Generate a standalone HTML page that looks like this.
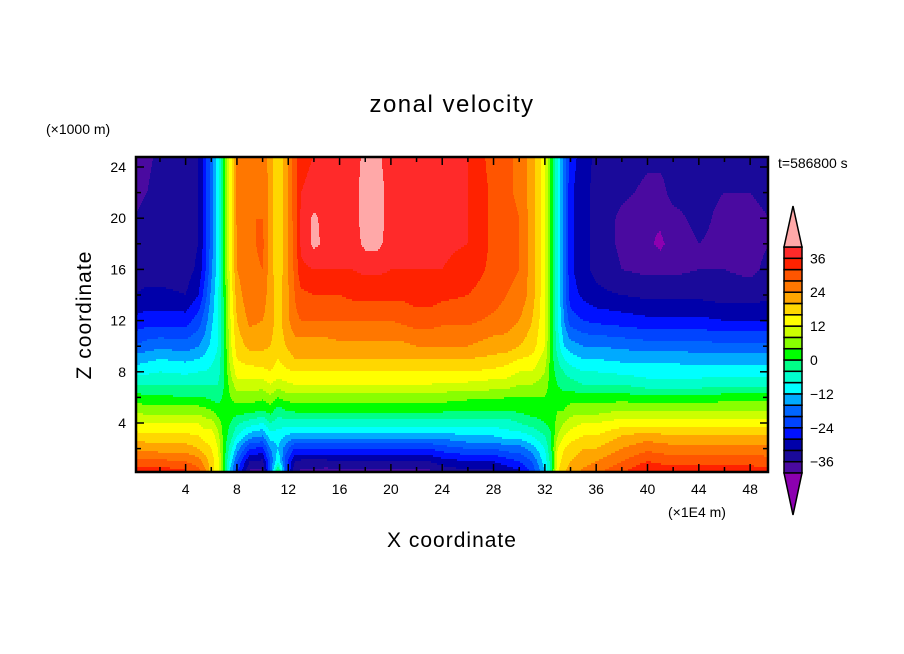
<!DOCTYPE html>
<html><head><meta charset="utf-8"><style>
body{margin:0;background:#fff;}
svg{display:block;font-family:"Liberation Sans",sans-serif;}
</style></head><body>
<svg id="chart" width="904" height="654" viewBox="0 0 904 654">
<rect width="904" height="654" fill="#fff"/>
<text x="452" y="112" font-size="24" text-anchor="middle" letter-spacing="1.5">zonal velocity</text>
<text x="46" y="134" font-size="14">(×1000 m)</text>
<text x="778" y="168" font-size="14">t=586800 s</text>
<text x="668" y="517" font-size="14">(×1E4 m)</text>
<text x="452" y="547" font-size="21" text-anchor="middle" letter-spacing="1">X coordinate</text>
<text x="0" y="0" font-size="21" text-anchor="middle" letter-spacing="1" transform="translate(91,315) rotate(-90)">Z coordinate</text>
<g id="field" shape-rendering="crispEdges"></g>
<g id="axes"></g>
<g id="cbar"></g>
</svg>
<script>
const xs=[0,1,2,4,5,5.5,6,6.5,7,7.5,8,9,10,10.6,11.2,11.8,12.5,13,14,15,16,17,18,19,20,21,22,23,24,26,28,29,30,31,32,32.5,33,33.5,34,35,36,38,40,41,42,44,46,48,49.5];
const zs=[0,1,2,3,4,5,6,7,8,9,10,12,14,16,18,20,22,25];
const cols=[
[36,30,23,18,12,7,2,-4,-10,-14,-20,-27,-32,-34,-35,-36,-37,-38],
[36,29,23,17,12,6,1,-4,-9,-13,-18,-26,-31,-34,-35,-35,-36,-37],
[36,29,22,17,12,6,1,-4,-8,-12,-17,-26,-31,-34,-34,-34,-34,-35],
[34,28,22,17,12,6,0,-4,-9,-13,-18,-26,-32,-34,-34,-34,-34,-34],
[30,26,20,16,12,6,0,-4,-8,-12,-16,-22,-28,-31,-32,-32,-32,-32],
[26,22,18,14,10,5,0,-4,-8,-11,-14,-18,-22,-25,-26,-26,-26,-26],
[18,18,16,14,10,4,-1,-4,-7,-9,-11,-13,-15,-17,-18,-18,-18,-18],
[14,14,12,10,6,2,-2,-4,-6,-7,-8,-9,-9,-10,-10,-10,-10,-10],
[2,2,2,2,2,2,1,0,0,0,0,0,1,2,2,2,2,2],
[-14,-10,-6,-2,0,2,4,6,8,10,11,12,13,14,14,14,14,14],
[-24,-20,-14,-8,-3,2,6,10,14,16,18,20,22,24,24,25,25,25],
[-38,-32,-24,-14,-6,2,6,10,14,18,21,25,27,27,27,28,27,26],
[-38,-33,-25,-16,-8,0,5,10,15,18,21,24,26,28,29,28,28,27],
[-20,-20,-16,-10,-4,2,7,12,16,18,20,22,22,22,22,22,22,22],
[4,-8,-12,-10,-6,-2,4,10,14,16,18,18,18,17,17,17,17,17],
[-20,-22,-18,-12,-6,0,6,11,15,18,20,22,22,22,22,22,22,22],
[-36,-32,-24,-14,-6,1,6,12,16,20,22,27,28,29,29,30,30,30],
[-38,-33,-24,-14,-6,1,6,12,16,20,22,28,31,35,37,37,36,35],
[-38,-33,-24,-14,-6,1,6,12,16,20,22,28,32,36,41,41,37,36],
[-39,-33,-24,-14,-6,1,6,12,16,20,22,28,32,36,39,38,37,37],
[-38,-32,-24,-14,-6,1,6,12,16,20,23,28,32,36,37,37,37,37],
[-38,-32,-24,-14,-6,1,6,12,16,20,23,28,33,36,38,38,38,38],
[-38,-32,-24,-14,-6,1,6,12,16,20,23,28,33,37,41,42,42,41],
[-38,-32,-24,-14,-6,1,6,12,16,20,23,28,33,37,41,42,42,41],
[-38,-32,-24,-14,-6,1,6,12,16,20,23,28,33,36,38,38,38,37],
[-38,-32,-24,-14,-6,1,6,12,16,20,23,29,33,36,37,37,37,37],
[-38,-32,-24,-14,-6,1,6,12,16,20,24,30,34,36,38,39,38,37],
[-38,-32,-24,-14,-6,1,6,12,16,20,24,30,34,36,37,37,37,37],
[-36,-30,-22,-14,-6,1,6,11,16,20,24,29,33,36,37,37,37,36],
[-34,-28,-20,-12,-6,0,5,11,16,20,24,29,32,34,36,36,36,36],
[-34,-28,-20,-12,-6,0,5,10,15,19,22,27,30,31,31,31,31,30],
[-32,-26,-18,-10,-6,0,4,10,14,18,22,26,28,29,30,30,29,29],
[-30,-24,-18,-10,-4,1,4,8,12,16,20,24,27,28,28,28,27,27],
[-24,-20,-14,-8,-2,2,4,8,12,15,18,20,22,22,22,22,22,22],
[-12,-10,-8,-4,0,2,4,6,8,10,12,13,13,13,13,13,13,13],
[-2,-2,0,0,1,1,2,2,2,2,2,2,2,2,2,2,2,2],
[16,14,12,8,6,4,2,0,-2,-4,-6,-8,-8,-8,-8,-8,-8,-8],
[20,18,16,12,8,4,2,-2,-4,-8,-12,-16,-18,-18,-18,-18,-18,-18],
[22,20,18,14,10,6,2,-2,-6,-10,-14,-22,-26,-27,-27,-27,-27,-26],
[26,22,20,16,12,6,2,-4,-8,-12,-16,-24,-29,-31,-31,-31,-31,-30],
[28,24,20,16,12,6,2,-4,-8,-12,-16,-25,-31,-33,-33,-33,-33,-33],
[32,28,24,20,14,8,2,-4,-9,-13,-17,-26,-32,-36,-37,-37,-35,-34],
[38,32,27,22,14,8,1,-6,-10,-13,-18,-27,-33,-37,-39,-40,-37,-35],
[36,31,26,21,14,8,1,-6,-10,-13,-18,-27,-33,-37,-41,-39,-37,-35],
[36,30,26,20,14,8,1,-6,-10,-13,-18,-27,-33,-37,-38,-37,-35,-35],
[36,30,26,20,14,8,1,-6,-10,-14,-18,-27,-33,-36,-36,-35,-35,-34],
[36,30,26,20,14,8,2,-5,-10,-14,-19,-28,-34,-36,-37,-37,-36,-35],
[36,30,26,20,14,8,2,-5,-10,-14,-19,-28,-34,-37,-37,-37,-36,-34],
[34,30,25,20,14,8,2,-5,-10,-14,-19,-28,-33,-35,-36,-36,-35,-34]
];
const levels=[-40,-36,-32,-28,-24,-20,-16,-12,-8,-4,0,4,8,12,16,20,24,28,32,36,40];
const cbarLabels=[-36,-24,-12,0,12,24,36];
const xTicks=[4,8,12,16,20,24,28,32,36,40,44,48];
const zTicks=[4,8,12,16,20,24];
const palette=["#8c00b0","#4a0aa0","#1a0a9a","#0000aa","#0011ff","#0044ff","#0066ff","#00aaff","#00ffff","#00ffcc","#00ff88","#00ff00","#88ff00","#ccff00","#ffff00","#ffd700","#ffa500","#ff7700","#ff5500","#ff2200","#ff2a2a","#ffa8a8"];

const NS="http://www.w3.org/2000/svg";
const L=136,R=768,T=157,B=472;
const X0=134.3,XS=12.83,Z0=474.2,ZS=12.8;
function px(x){return X0+x*XS;}
function py(z){return Z0-z*ZS;}
function ix(p){return (p-X0)/XS;}
function iz(p){return (Z0-p)/ZS;}
function seg(arr,v){let i=0;while(i<arr.length-2&&v>arr[i+1])i++;let t=(v-arr[i])/(arr[i+1]-arr[i]);t=Math.max(0,Math.min(1,t));return [i,t];}
function val(x,z){const [i,tx]=seg(xs,x);const [j,tz]=seg(zs,z);
 const a=cols[i][j],b=cols[i+1][j],c=cols[i][j+1],d=cols[i+1][j+1];
 return (a*(1-tx)+b*tx)*(1-tz)+(c*(1-tx)+d*tx)*tz;}
function cidx(v){let k=0;while(k<levels.length&&v>=levels[k])k++;return k;}

const field=document.getElementById('field');
const DY=2;
for(let y=T;y<B;y+=DY){
 const h=Math.min(DY,B-y);const z=iz(y+h/2);
 let start=L,cur=cidx(val(ix(L+0.5),z));
 for(let x=L+1;x<=R;x++){
  const k=x<R?cidx(val(ix(x+0.5),z)):-1;
  if(k!==cur){
   const r=document.createElementNS(NS,'rect');
   r.setAttribute('x',start);r.setAttribute('y',y);r.setAttribute('width',x-start);r.setAttribute('height',h);r.setAttribute('fill',palette[cur]);
   
   
   field.appendChild(r);start=x;cur=k;}
 }
}
const axes=document.getElementById('axes');
function line(p,x1,y1,x2,y2,w,name){const l=document.createElementNS(NS,'line');l.setAttribute('x1',x1);l.setAttribute('y1',y1);l.setAttribute('x2',x2);l.setAttribute('y2',y2);l.setAttribute('stroke','#000');l.setAttribute('stroke-width',w);
 
 
 p.appendChild(l);}
function text(p,x,y,s,anchor,name){const t=document.createElementNS(NS,'text');t.setAttribute('x',x);t.setAttribute('y',y);t.setAttribute('font-size','14');t.setAttribute('text-anchor',anchor);t.textContent=s;
 
 
 p.appendChild(t);}
for(let x=2;x<50;x+=2){const X=px(x);const big=x%4===0;const len=big?8:5;
 line(axes,X,B,X,B-len,1.5,'x-tick');line(axes,X,T,X,T+len,1.5,'x-tick-top');}
for(let z=2;z<25;z+=2){const Y=py(z);const big=z%4===0;const len=big?8:5;
 line(axes,L,Y,L+len,Y,1.5,'y-tick');line(axes,R,Y,R-len,Y,1.5,'y-tick-right');}
xTicks.forEach(v=>text(axes,px(v),B+22,String(v),'middle','x-tick-label'));
zTicks.forEach(v=>text(axes,L-10,py(v)+5,String(v),'end','y-tick-label'));
const fr=document.createElementNS(NS,'rect');fr.setAttribute('x',L);fr.setAttribute('y',T);fr.setAttribute('width',R-L);fr.setAttribute('height',B-T);fr.setAttribute('fill','none');fr.setAttribute('stroke','#000');fr.setAttribute('stroke-width','2.5');


axes.appendChild(fr);

const cb=document.getElementById('cbar');
const CX=784,CW=18,CT=247,CB=473,n=levels.length-1,bh=(CB-CT)/n;
for(let k=0;k<n;k++){const r=document.createElementNS(NS,'rect');
 r.setAttribute('x',CX);r.setAttribute('y',CB-(k+1)*bh);r.setAttribute('width',CW);r.setAttribute('height',bh);r.setAttribute('fill',palette[k+1]);r.setAttribute('stroke','#000');r.setAttribute('stroke-width','1.5');
 
 
 cb.appendChild(r);}
const tp=document.createElementNS(NS,'polygon');tp.setAttribute('points',`${CX},${CT} ${CX+CW},${CT} ${CX+CW/2},${CT-41}`);tp.setAttribute('fill',palette[palette.length-1]);tp.setAttribute('stroke','#000');tp.setAttribute('stroke-width','1.5');


cb.appendChild(tp);
const bp=document.createElementNS(NS,'polygon');bp.setAttribute('points',`${CX},${CB} ${CX+CW},${CB} ${CX+CW/2},${CB+42}`);bp.setAttribute('fill',palette[0]);bp.setAttribute('stroke','#000');bp.setAttribute('stroke-width','1.5');


cb.appendChild(bp);
cbarLabels.forEach(v=>{const k=levels.indexOf(v);const Y=CB-k*bh;text(cb,810,Y+5,v<0?'\u2212'+(-v):String(v),'start','colorbar-label');});
</script>
</body></html>
